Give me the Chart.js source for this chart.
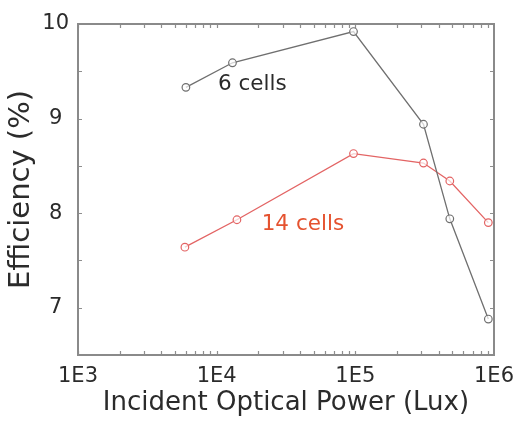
<!DOCTYPE html>
<html>
<head>
<meta charset="utf-8">
<script src="https://cdn.jsdelivr.net/npm/chart.js@4.4.0/dist/chart.umd.min.js"></script>
<style>
  html, body { margin: 0; padding: 0; background: #fff; }
  #wrap { width: 523px; height: 421px; }
</style>
</head>
<body>
<div id="wrap"><canvas id="c" width="523" height="421"></canvas></div>
<script>
// Efficiency vs. incident optical power for two module layouts
const luxSixCells = [6000, 13000, 97000, 310000, 480000, 910000];
const effSixCells = [9.33, 9.59, 9.92, 8.94, 7.94, 6.88];
const luxFourteenCells = [5900, 14000, 97000, 310000, 480000, 910000];
const effFourteenCells = [7.64, 7.93, 8.63, 8.53, 8.34, 7.90];

const xTickValues = [1e3, 1e4, 1e5, 1e6];
const xTickLabels = ['1E3', '1E4', '1E5', '1E6'];
const yTickValues = [7, 8, 9, 10];
const yTickLabels = ['7', '8', '9', '10'];

// in-plot series labels, anchored in data coordinates
const seriesNames = ['6 cells', '14 cells'];
const seriesNameLux = [10220, 21120];
const seriesNameEff = [9.36, 7.886];

const FONT = '"DejaVu Sans", Verdana, sans-serif';
const GRAY = '#6f6f6f';
const RED = '#e36464';
const TEXT = '#2b2b2b';

// boxed frame with short inward ticks on all four sides
const frameTicks = {
  id: 'frameTicks',
  beforeDatasetsDraw(chart) {
    const { ctx, chartArea: a, scales: { x, y } } = chart;
    ctx.save();
    ctx.strokeStyle = '#8e8e8e';
    ctx.lineWidth = 1.2;
    const len = 4;
    ctx.beginPath();
    for (let d = 3; d < 6; d++) {
      for (let k = 1; k <= 9; k++) {
        const px = Math.round(x.getPixelForValue(k * Math.pow(10, d))) + 0.5;
        ctx.moveTo(px, a.bottom); ctx.lineTo(px, a.bottom - len);
        ctx.moveTo(px, a.top); ctx.lineTo(px, a.top + len);
      }
    }
    for (let v = 7; v < 10; v += 0.5) {
      const py = Math.round(y.getPixelForValue(v)) + 0.5;
      ctx.moveTo(a.left, py); ctx.lineTo(a.left + len, py);
      ctx.moveTo(a.right, py); ctx.lineTo(a.right - len, py);
    }
    ctx.stroke();
    ctx.lineWidth = 2;
    ctx.strokeStyle = '#8a8a8a';
    ctx.strokeRect(a.left, a.top, a.right - a.left, a.bottom - a.top);
    ctx.restore();
  },
  afterDatasetsDraw(chart) {
    const { ctx, scales: { x, y } } = chart;
    const colors = ['#2a2a2a', '#e5522f'];
    ctx.save();
    ctx.font = '21.5px ' + FONT;
    ctx.textAlign = 'left';
    ctx.textBaseline = 'middle';
    seriesNames.forEach((name, i) => {
      ctx.fillStyle = colors[i];
      ctx.fillText(name, x.getPixelForValue(seriesNameLux[i]), y.getPixelForValue(seriesNameEff[i]));
    });
    ctx.restore();
  }
};

function points(xs, ys) { return xs.map((v, i) => ({ x: v, y: ys[i] })); }

new Chart(document.getElementById('c'), {
  type: 'line',
  data: {
    datasets: [
      {
        label: seriesNames[0],
        data: points(luxSixCells, effSixCells),
        borderColor: GRAY, borderWidth: 1.3,
        pointRadius: 3.8, pointBorderWidth: 1.2,
        pointBorderColor: GRAY, pointBackgroundColor: 'rgba(255,255,255,0.7)',
        tension: 0
      },
      {
        label: seriesNames[1],
        data: points(luxFourteenCells, effFourteenCells),
        borderColor: RED, borderWidth: 1.3,
        pointRadius: 3.8, pointBorderWidth: 1.2,
        pointBorderColor: RED, pointBackgroundColor: 'rgba(255,255,255,0.7)',
        tension: 0
      }
    ]
  },
  options: {
    responsive: false,
    animation: false,
    devicePixelRatio: 1,
    layout: { padding: { top: 24, right: 26, left: 0, bottom: 0 } },
    plugins: { legend: { display: false }, tooltip: { enabled: false } },
    scales: {
      x: {
        type: 'logarithmic',
        min: 1e3, max: 1e6,
        grid: { display: false, drawTicks: false },
        border: { display: false },
        afterBuildTicks: s => { s.ticks = xTickValues.map(v => ({ value: v })); },
        afterFit: s => { s.height = 66; },
        ticks: {
          autoSkip: false, maxRotation: 0, padding: 9,
          color: TEXT, font: { family: FONT, size: 21 },
          callback: v => xTickLabels[xTickValues.indexOf(v)]
        },
        title: {
          display: true, text: 'Incident Optical Power (Lux)',
          color: TEXT, font: { family: FONT, size: 26 },
          padding: { top: 0, bottom: 2 }
        }
      },
      y: {
        type: 'linear',
        min: 6.5, max: 10,
        grid: { display: false, drawTicks: false },
        border: { display: false },
        afterBuildTicks: s => { s.ticks = yTickValues.map(v => ({ value: v })); },
        afterFit: s => { s.width = 78; },
        ticks: {
          crossAlign: 'center', padding: 9,
          color: TEXT, font: { family: FONT, size: 21 },
          callback: v => yTickLabels[yTickValues.indexOf(v)]
        },
        title: {
          display: true, text: 'Efficiency (%)',
          color: TEXT, font: { family: FONT, size: 29 }
        }
      }
    }
  },
  plugins: [frameTicks]
});
</script>
</body>
</html>
